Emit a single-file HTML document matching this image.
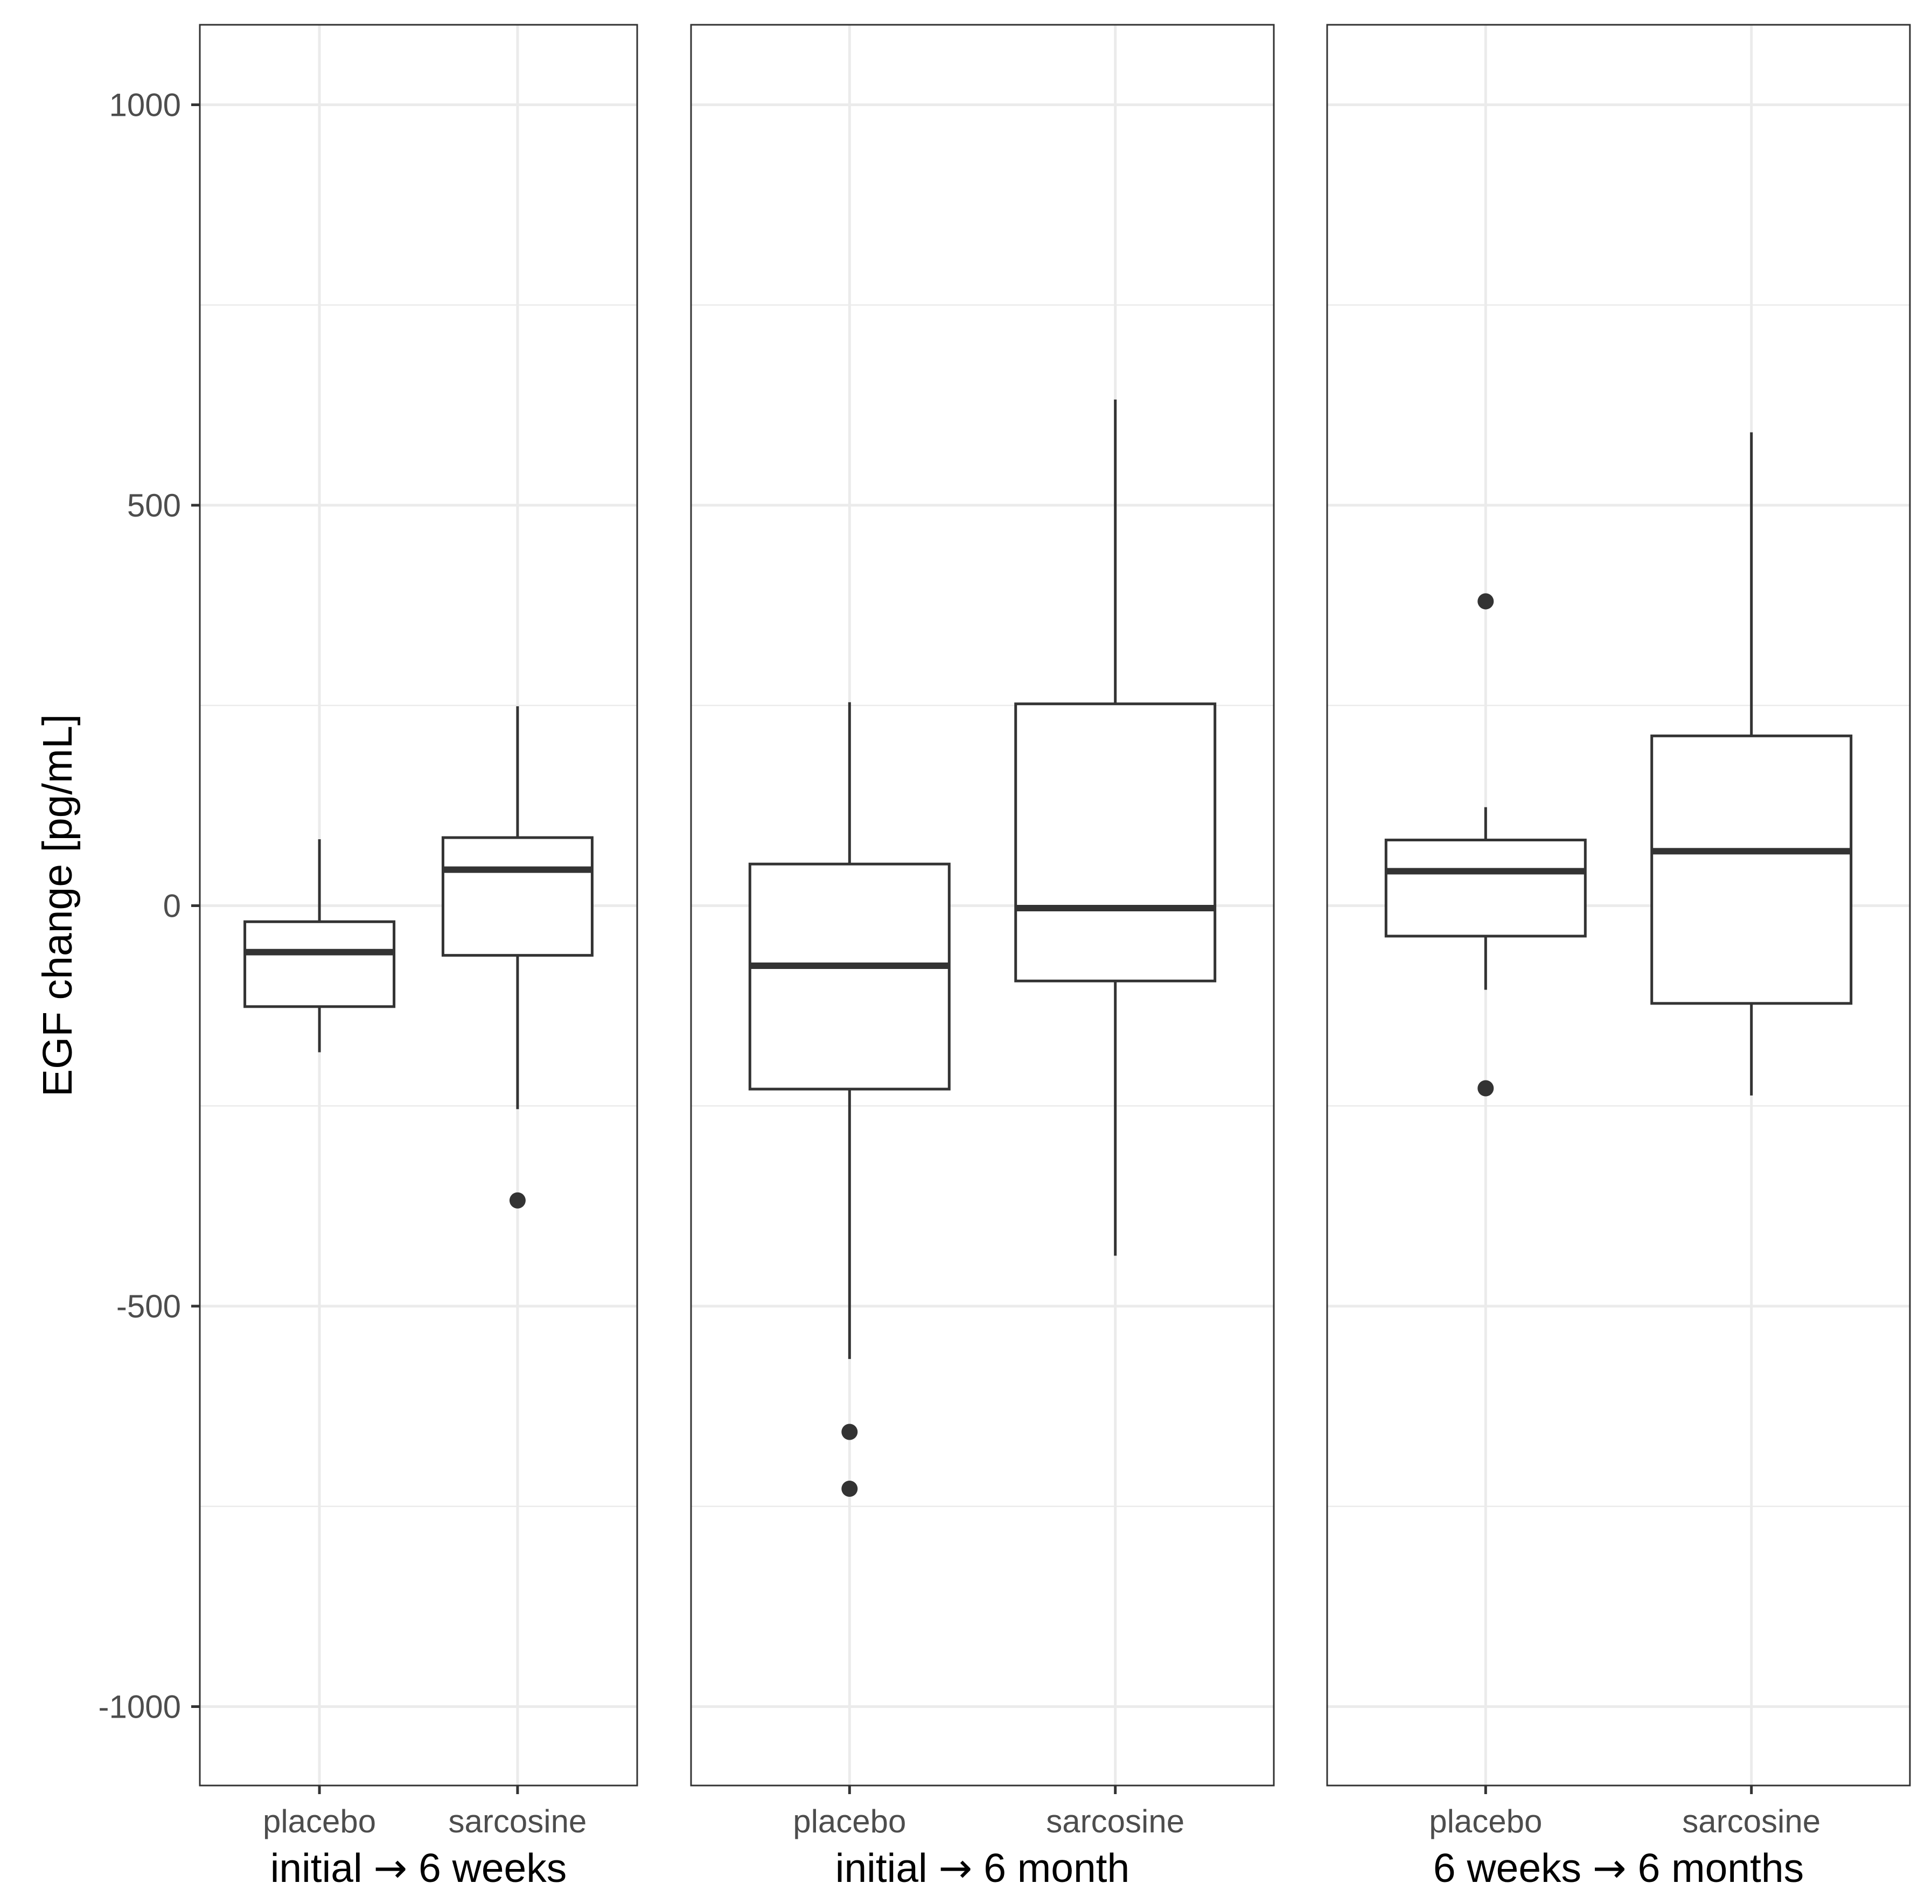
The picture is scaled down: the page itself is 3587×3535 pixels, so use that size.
<!DOCTYPE html>
<html><head><meta charset="utf-8"><style>
html,body{margin:0;padding:0;background:#fff}
svg{display:block}
text{font-family:"Liberation Sans",Arial,sans-serif}
</style></head><body>
<svg id="chart" width="3587" height="3535" viewBox="0 0 3587 3535" xmlns="http://www.w3.org/2000/svg">
<text transform="translate(133,1681) rotate(-90)" text-anchor="middle" font-size="77" fill="#000">EGF change [pg/mL]</text>
</svg>
<script>
const facets = ["initial → 6 weeks", "initial → 6 month", "6 weeks → 6 months"];
const categories = ["placebo", "sarcosine"];
const yTicks = [1000, 500, 0, -500, -1000];
const yMinor = [750, 250, -250, -750];
// per facet: [placebo, sarcosine]
const whiskerLow = [[-183, -254], [-566, -437], [-105, -237]];
const q1 = [[-126, -62], [-229, -94], [-38, -122]];
const median = [[-58, 45], [-75, -3], [43, 68]];
const q3 = [[-20, 85], [52, 252], [82, 212]];
const whiskerHigh = [[83, 249], [254, 632], [123, 591]];
const outliers = [[[], [-368]], [[-657, -728], []], [[380, -228], []]];

const svg = document.getElementById('chart');
const NS = 'http://www.w3.org/2000/svg';
const panels = [{x0:371,x1:1183},{x0:1283,x1:2365},{x0:2464,x1:3546}];
const panelTop = 46, panelBottom = 3315;
const boxW = [277, 370, 370];
function y(v){ return 1681.5 - v * 1.487; }
function xc(p, i){ const w = panels[p].x1 - panels[p].x0; return panels[p].x0 + w * (0.5 + (i - 0.5) * (p === 0 ? 0.453 : 0.456)); }
function mk(tag, attrs){ const e = document.createElementNS(NS, tag); for (const k in attrs) e.setAttribute(k, attrs[k]); svg.appendChild(e); return e; }

panels.forEach((P, p) => {
  const bg = mk('rect', {x:P.x0, y:panelTop, width:P.x1-P.x0, height:panelBottom-panelTop, fill:'#fff'});
  
  
  yMinor.forEach(v => {
    const g = mk('line', {x1:P.x0, x2:P.x1, y1:y(v), y2:y(v), stroke:'#ebebeb', 'stroke-width':2.5});
    
    
  });
  yTicks.forEach(v => {
    const g = mk('line', {x1:P.x0, x2:P.x1, y1:y(v), y2:y(v), stroke:'#ebebeb', 'stroke-width':5});
    
    
  });
  categories.forEach((c, i) => {
    const g = mk('line', {x1:xc(p,i), x2:xc(p,i), y1:panelTop, y2:panelBottom, stroke:'#ebebeb', 'stroke-width':5});
    
    
  });
  categories.forEach((c, i) => {
    const cx = xc(p, i), hw = boxW[p] / 2;
    const w1 = mk('line', {x1:cx, x2:cx, y1:y(whiskerHigh[p][i]), y2:y(q3[p][i]), stroke:'#333', 'stroke-width':5});
    
    
    const w2 = mk('line', {x1:cx, x2:cx, y1:y(q1[p][i]), y2:y(whiskerLow[p][i]), stroke:'#333', 'stroke-width':5});
    
    
    const b = mk('rect', {x:cx-hw, y:y(q3[p][i]), width:boxW[p], height:y(q1[p][i])-y(q3[p][i]), fill:'#fff', stroke:'#333', 'stroke-width':5});
    
    
    const m = mk('line', {x1:cx-hw, x2:cx+hw, y1:y(median[p][i]), y2:y(median[p][i]), stroke:'#333', 'stroke-width':12});
    
    
    outliers[p][i].forEach(v => {
      const o = mk('circle', {cx:cx, cy:y(v), r:15, fill:'#333'});
      
      
    });
    const t = mk('line', {x1:cx, x2:cx, y1:panelBottom, y2:panelBottom+16, stroke:'#333', 'stroke-width':5});
    
    
    const l = mk('text', {x:cx, y:3402, 'text-anchor':'middle', 'font-size':60, fill:'#4d4d4d'});
    l.textContent = c;
    
    
  });
  const br = mk('rect', {x:P.x0, y:panelTop, width:P.x1-P.x0, height:panelBottom-panelTop, fill:'none', stroke:'#333', 'stroke-width':3});
  
  
  const ft = mk('text', {x:(P.x0+P.x1)/2, y:3494, 'text-anchor':'middle', 'font-size':75, fill:'#000'});
  const parts = facets[p].split('→');
  const t1 = document.createElementNS(NS, 'tspan'); t1.textContent = parts[0]; ft.appendChild(t1);
  const t2 = document.createElementNS(NS, 'tspan'); t2.textContent = '→'; t2.setAttribute('font-family', 'DejaVu Sans'); ft.appendChild(t2);
  const t3 = document.createElementNS(NS, 'tspan'); t3.textContent = parts[1]; ft.appendChild(t3);
  
  
});
yTicks.forEach(v => {
  const t = mk('line', {x1:355, x2:371, y1:y(v), y2:y(v), stroke:'#333', 'stroke-width':5});
  
  
  const l = mk('text', {x:336, y:y(v)+21, 'text-anchor':'end', 'font-size':60, fill:'#4d4d4d'});
  l.textContent = v;
  
  
});
</script>
</body></html>
